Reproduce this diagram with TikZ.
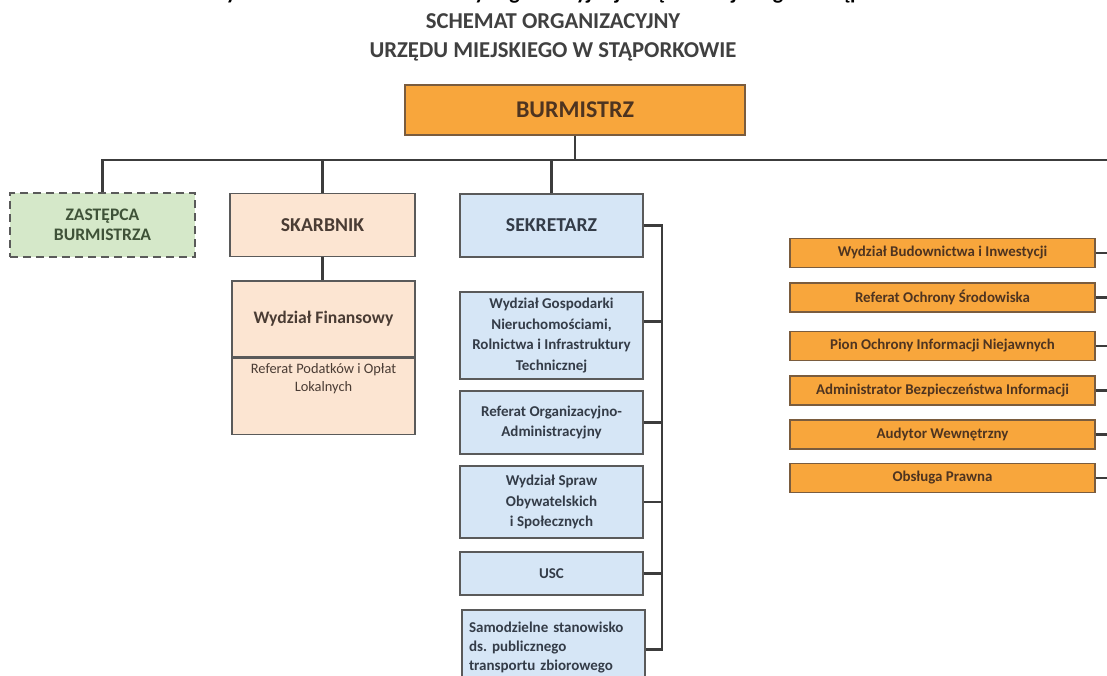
\documentclass[tikz,border=0pt]{standalone}
\usepackage{fontspec}
\setmainfont{Carlito}
\usetikzlibrary{calc}
\definecolor{linec}{HTML}{3C3C3C}
\definecolor{bordc}{HTML}{5A5A5A}
\definecolor{orfill}{HTML}{F8A63C}
\definecolor{orbord}{HTML}{7A5C3E}
\definecolor{ortext}{HTML}{4E3420}
\definecolor{pefill}{HTML}{FCE5D2}
\definecolor{petext}{HTML}{4A3C34}
\definecolor{blfill}{HTML}{D6E6F6}
\definecolor{bltext}{HTML}{343C48}
\definecolor{grfill}{HTML}{D5E8C9}
\definecolor{grtext}{HTML}{3F5238}
\definecolor{titlec}{HTML}{404040}
\tikzset{
  conn/.style={draw=linec, line width=2.4pt},
  basebox/.style={rectangle, line width=1.3pt, inner sep=2pt, align=center},
  orbox/.style={basebox, draw=orbord, fill=orfill, text=ortext,
    font=\bfseries\fontsize{14.9}{17}\selectfont, minimum width=305pt, minimum height=29pt},
  pebox/.style={basebox, draw=bordc, fill=pefill, text=petext, minimum width=183pt},
  blbox/.style={basebox, draw=bordc, fill=blfill, text=bltext,
    font=\bfseries\fontsize{15}{20.8}\selectfont, minimum width=183pt},
  grbox/.style={basebox, draw=bordc, dashed, dash pattern=on 8pt off 5pt, fill=grfill, text=grtext,
    font=\bfseries\fontsize{17.6}{20.5}\selectfont, minimum width=185pt, minimum height=64pt},
  titletext/.style={text=titlec, font=\bfseries\fontsize{22.7}{26}\selectfont, inner sep=0pt}
}
\begin{document}
\frenchspacing
\begin{tikzpicture}[x=1pt,y=-1pt]
\useasboundingbox (0,0) rectangle (1107,675);
\clip (0,0) rectangle (1107,675);

% clipped heading at the very top (only its descenders are visible)
\node[anchor=base, font=\bfseries\fontsize{22}{26}\selectfont, inner sep=0pt] (cut) at (575,-0.5)
  {Rysunek 1. Schemat struktury organizacyjnej Urzędu Miejskiego w Stąporkowie};

\node[titletext] (t1) at (553,21) {SCHEMAT ORGANIZACYJNY};
\node[titletext] (t2) at (553,51.5) {URZĘDU MIEJSKIEGO W STĄPORKOWIE};

% top
\node[basebox, draw=orbord, fill=orfill, text=ortext, font=\bfseries\fontsize{24}{28}\selectfont,
  minimum width=340pt, minimum height=50pt] (burm) at (575,110) {BURMISTRZ};

% second level
\node[grbox] (zast) at (102.5,225) {ZASTĘPCA\\BURMISTRZA};
\node[pebox, font=\bfseries\fontsize{19.7}{23}\selectfont, minimum width=185pt, minimum height=63pt] (skarb) at (322.5,225) {SKARBNIK};
\node[blbox, font=\bfseries\fontsize{19.7}{23}\selectfont, minimum height=63pt] (sekr) at (551.5,225.5) {SEKRETARZ};

% skarbnik subtree
\node[pebox, font=\bfseries\fontsize{17.6}{21}\selectfont, minimum height=76pt] (fin) at (323.5,319) {Wydział Finansowy};
\node[pebox, font=\fontsize{14.4}{18}\selectfont, minimum height=76pt, anchor=north, text depth=38pt] (pod) at (fin.south) {Referat Podatków i Opłat\\Lokalnych};

% sekretarz subtree
\node[blbox, minimum height=87pt] (g1) at (551.5,335.5) {Wydział Gospodarki\\Nieruchomościami,\\Rolnictwa i Infrastruktury\\Technicznej};
\node[blbox, minimum height=63pt] (g2) at (551.5,422.5) {Referat Organizacyjno-\\Administracyjny};
\node[blbox, minimum height=72pt] (g3) at (551.5,502) {Wydział Spraw\\Obywatelskich\\i Społecznych};
\node[blbox, minimum height=43pt] (g4) at (551.5,573.5) {USC};
\node[blbox, align=left, font=\bfseries\fontsize{15}{19.3}\selectfont, minimum height=75pt, text width=169pt] (g5) at (553.5,647.5)
  {Samodzielne stanowisko\\ds. publicznego\\transportu zbiorowego};

% right column
\node[orbox] (o1) at (942.5,253) {Wydział Budownictwa i Inwestycji};
\node[orbox] (o2) at (942.5,297.5) {Referat Ochrony Środowiska};
\node[orbox] (o3) at (942.5,346) {Pion Ochrony Informacji Niejawnych};
\node[orbox] (o4) at (942.5,390.5) {Administrator Bezpieczeństwa Informacji};
\node[orbox] (o5) at (942.5,434.5) {Audytor Wewnętrzny};
\node[orbox] (o6) at (942.5,478) {Obsługa Prawna};

% connectors
\coordinate (hR) at (1107,160);
\coordinate (bus) at (662,0);
\draw[conn] (burm.south) -- (burm.south |- hR);
\draw[conn] (zast.north) |- (hR);
\draw[conn] (skarb.north) -- (skarb.north |- hR);
\draw[conn] (sekr.north) -- (sekr.north |- hR);
\draw[conn] (skarb.south) -- (skarb.south |- fin.north);

\coordinate (g1e) at ($(g1.north east)+(0,30)$);
\coordinate (g5e) at ($(g5.north east)+(0,40)$);
\draw[conn] (sekr.east) -- (sekr.east -| bus) -- (g5e -| bus) -- (g5e);
\draw[conn] (g1e) -- (g1e -| bus);
\draw[conn] (g2.east) -- (g2.east -| bus);
\draw[conn] (g3.east) -- (g3.east -| bus);
\draw[conn] (g4.east) -- (g4.east -| bus);

\foreach \n in {o1,o2,o3,o4,o5,o6}{
  \draw[conn] (\n.east) -- (\n.east -| hR);
}
\end{tikzpicture}
\end{document}
